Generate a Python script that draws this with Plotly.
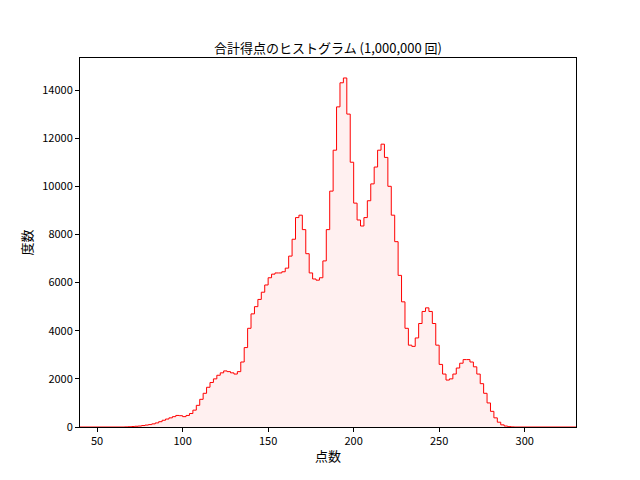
import plotly.graph_objects as go

bin_width = 2
bin_starts = list(range(66, 294, 2))
counts = [5,10,20,30,40,60,80,100,130,170,220,280,330,380,430,480,470,430,480,560,700,900,1150,1400,1650,1850,2000,2150,2250,2330,2300,2250,2200,2300,2700,3300,4100,4700,5000,5300,5600,5900,6200,6350,6400,6400,6450,6600,7100,7800,8700,8800,8200,7200,6400,6150,6100,6200,6900,8200,9800,11500,13300,14300,14500,13000,11000,9300,8600,8350,8700,9400,10100,10800,11500,11750,11200,10000,8800,7700,6300,5200,4100,3400,3350,3700,4300,4800,4950,4800,4300,3400,2600,2200,1950,2000,2200,2450,2650,2800,2800,2700,2500,2200,1800,1400,1000,650,380,200,90,40,15,5]
x_ticks = [50, 100, 150, 200, 250, 300]
y_ticks = [0, 2000, 4000, 6000, 8000, 10000, 12000, 14000]

xs = [40] + bin_starts + [bin_starts[-1] + bin_width, 330]
ys = [0] + counts + [0, 0]

fig = go.Figure(go.Scatter(x=xs, y=ys, mode="lines", line=dict(color="red", width=1, shape="hv"),
                           fill="tozeroy", fillcolor="rgba(255,0,0,0.06)"))
axis = dict(showgrid=False, zeroline=False, showline=True, linecolor="black", mirror=True,
            ticks="outside", ticklen=4, tickcolor="black")
fig.update_layout(
    width=640, height=480, plot_bgcolor="white", paper_bgcolor="white",
    margin=dict(l=72, r=72, t=50, b=61), showlegend=False,
    font=dict(family="Noto Sans CJK JP, DejaVu Sans", size=11, color="black"),
    title=dict(text="合計得点のヒストグラム (1,000,000 回)", x=0.5, xanchor="center", y=0.925, font=dict(size=13)),
    xaxis=dict(axis, range=[40, 330], tickvals=x_ticks, title=dict(text="点数", standoff=4)),
    yaxis=dict(axis, range=[0, 15330], tickvals=y_ticks, tickformat="d", title=dict(text="度数", standoff=6)),
)
fig.write_html("out.html")
